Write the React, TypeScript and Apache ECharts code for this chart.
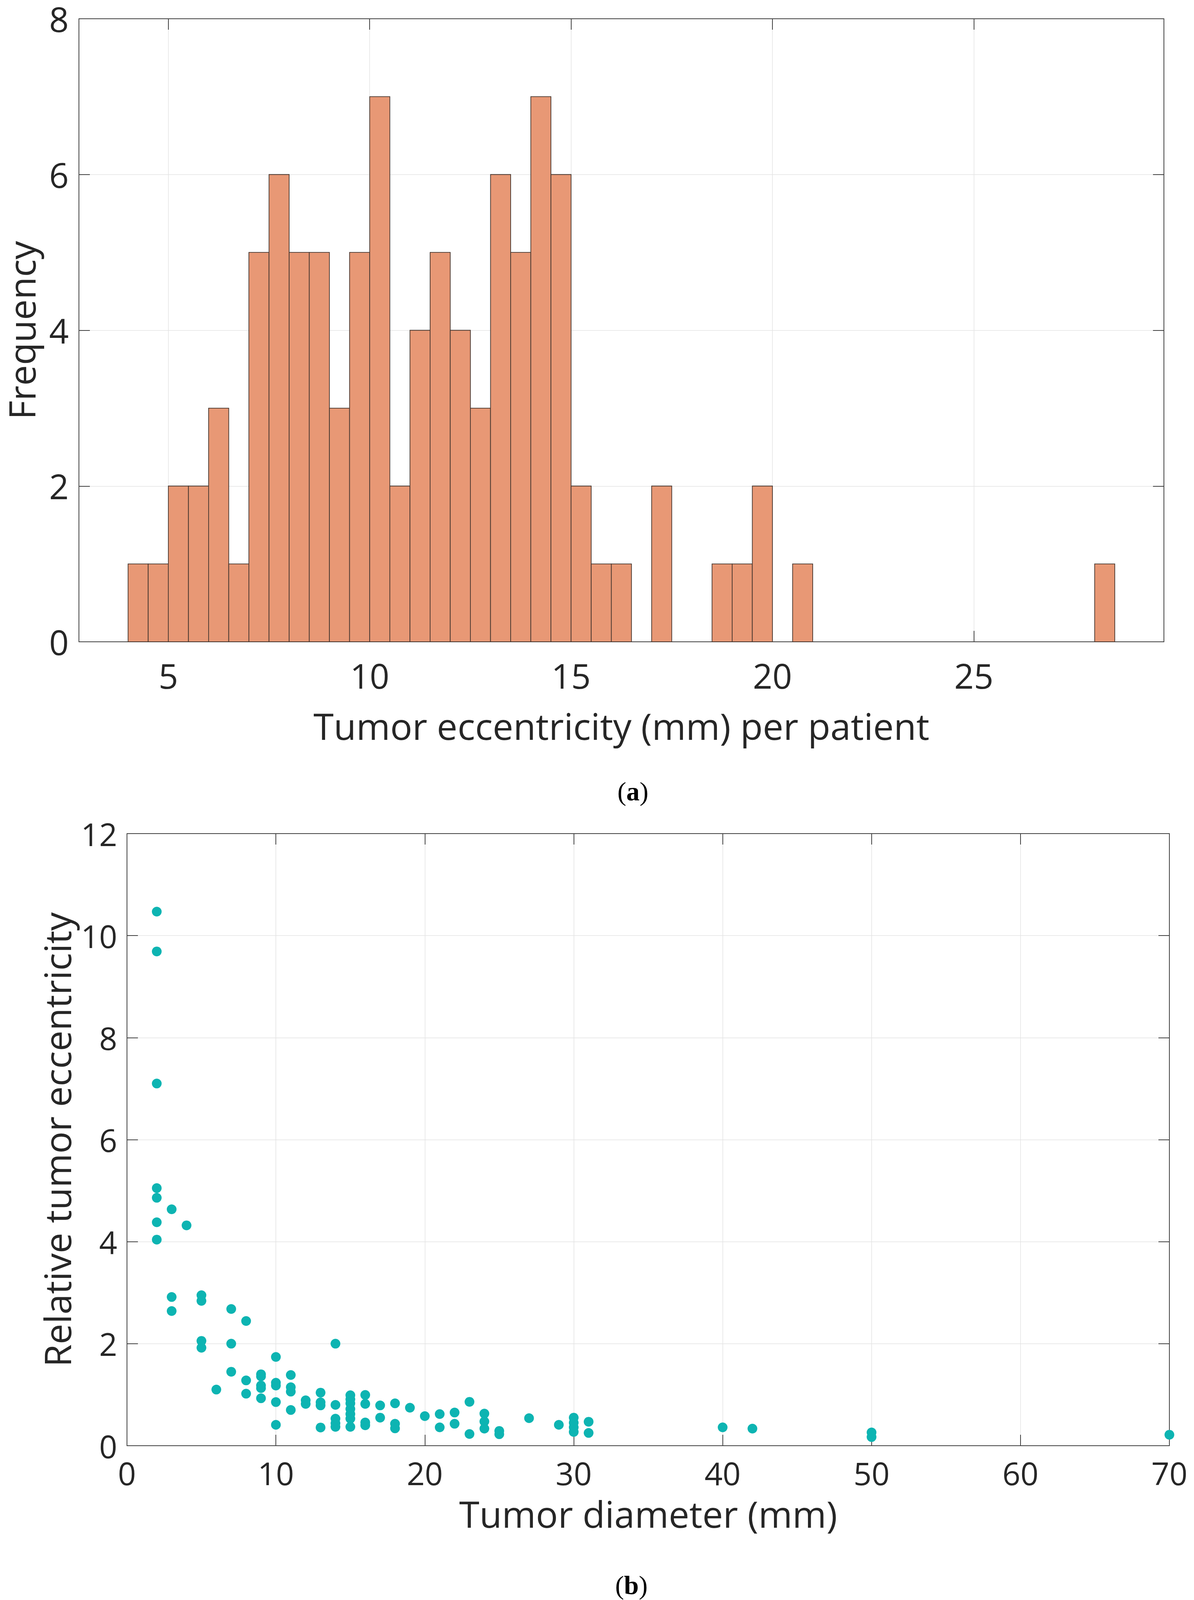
import React, { useEffect, useRef } from "react";
import * as echarts from "echarts";

// ---------- Data ----------
// (a) histogram of tumor eccentricity (mm), bins of 0.5 mm starting at 4 mm
const binStart = 4;
const binWidth = 0.5;
const binCounts = [
  1, 1, 2, 2, 3, 1, 5, 6, 5, 5, 3, 5, 7, 2, 4, 5, 4, 3, 6, 5, 7, 6, 2, 1, 1, 0,
  2, 0, 0, 1, 1, 2, 0, 1, 0, 0, 0, 0, 0, 0, 0, 0, 0, 0, 0, 0, 0, 0, 1,
];
const histXTicks = [5, 10, 15, 20, 25];
const histYTicks = [0, 2, 4, 6, 8];

// (b) relative tumor eccentricity vs tumor diameter
const diameters = [
  2, 2, 2, 2, 2, 2, 2,
  3, 3, 3,
  4,
  5, 5, 5, 5,
  6,
  7, 7, 7,
  8, 8, 8,
  9, 9, 9, 9, 9,
  10, 10, 10, 10, 10,
  11, 11, 11, 11,
  12, 12,
  13, 13, 13, 13,
  14, 14, 14, 14, 14,
  15, 15, 15, 15, 15, 15, 15,
  16, 16, 16, 16,
  17, 17,
  18, 18, 18,
  19,
  20,
  21, 21,
  22, 22,
  23, 23,
  24, 24, 24,
  25, 25,
  27,
  29,
  30, 30, 30, 30,
  31, 31,
  40,
  42,
  50, 50,
  70,
];
const relEccentricity = [
  10.47, 9.69, 7.1, 5.05, 4.86, 4.38, 4.04,
  4.635, 2.915, 2.64,
  4.32,
  2.95, 2.84, 2.055, 1.92,
  1.1,
  2.68, 2.0, 1.45,
  2.445, 1.28, 1.02,
  1.4, 1.36, 1.18, 1.13, 0.93,
  1.74, 1.235, 1.18, 0.855, 0.41,
  1.386, 1.146, 1.06, 0.7,
  0.89, 0.82,
  1.04, 0.85, 0.79, 0.357,
  2.0, 0.8, 0.53, 0.44, 0.37,
  0.99, 0.91, 0.83, 0.72, 0.62, 0.53, 0.37,
  0.995, 0.82, 0.455, 0.4,
  0.79, 0.55,
  0.83, 0.43, 0.34,
  0.745,
  0.58,
  0.62, 0.36,
  0.65, 0.43,
  0.86, 0.23,
  0.63, 0.475, 0.335,
  0.29, 0.225,
  0.54,
  0.41,
  0.55, 0.45, 0.36, 0.27,
  0.47, 0.25,
  0.36,
  0.335,
  0.26, 0.17,
  0.215,
];

// ---------- Styles ----------
const FONT = "'Open Sans', 'Noto Sans', sans-serif";
const TXT = "#262626";
const AXIS = "#404040";
const GRIDC = "#e3e3e3";
const BAR_FILL = "#E89875";
const BAR_EDGE = "#45362f";
const DOT = "#0DB4B2";

const W = 3056;
const H = 4115;

export default function App() {
  const ref = useRef<HTMLDivElement>(null);

  useEffect(() => {
    if (!ref.current) return;
    const chart = echarts.init(ref.current, undefined, { renderer: "svg" });

    const histData = binCounts
      .map((c, i) => [binStart + i * binWidth, binStart + (i + 1) * binWidth, c])
      .filter((d) => d[2] > 0);
    const scatterData = diameters.map((d, i) => [d, relEccentricity[i]]);

    const tickStyle = { show: true, inside: true, length: 28, lineStyle: { color: AXIS, width: 2 } };
    const lineStyle = { show: true, lineStyle: { color: AXIS, width: 2 } };

    const hMin = 2.78;
    const hMax = 29.72;

    const nameStyle = { fontSize: 94, lineHeight: 94, fontFamily: FONT, color: TXT };

    const option: any = {
      animation: false,
      backgroundColor: "#ffffff",
      grid: [
        { left: 194, top: 48, width: 2785, height: 1595, show: false },
        { left: 325, top: 2134, width: 2668, height: 1567, show: false },
      ],
      xAxis: [
        {
          gridIndex: 0,
          type: "value",
          position: "bottom",
          min: hMin,
          max: hMax,
          axisLine: { ...lineStyle, onZero: false },
          axisTick: { ...tickStyle, customValues: histXTicks },
          axisLabel: {
            customValues: histXTicks,
            margin: 42,
            fontSize: 88,
            lineHeight: 88,
            fontFamily: FONT,
            color: TXT,
          },
          splitLine: { show: true, lineStyle: { color: GRIDC, width: 1.5 } },
          name: "Tumor eccentricity (mm) per patient",
          nameLocation: "middle",
          nameGap: 168,
          nameTextStyle: nameStyle,
        },
        {
          gridIndex: 0,
          type: "value",
          position: "top",
          min: hMin,
          max: hMax,
          axisLine: { ...lineStyle, onZero: false },
          axisTick: { ...tickStyle, customValues: histXTicks },
          axisLabel: { show: false },
          splitLine: { show: false },
        },
        {
          gridIndex: 1,
          type: "value",
          position: "bottom",
          min: 0,
          max: 70,
          interval: 10,
          axisLine: { ...lineStyle, onZero: false },
          axisTick: tickStyle,
          axisLabel: { margin: 29, fontSize: 81, lineHeight: 81, fontFamily: FONT, color: TXT },
          splitLine: { show: true, lineStyle: { color: GRIDC, width: 1.5 } },
          name: "Tumor diameter (mm)",
          nameLocation: "middle",
          nameGap: 127,
          nameTextStyle: nameStyle,
        },
        {
          gridIndex: 1,
          type: "value",
          position: "top",
          min: 0,
          max: 70,
          interval: 10,
          axisLine: { ...lineStyle, onZero: false },
          axisTick: tickStyle,
          axisLabel: { show: false },
          splitLine: { show: false },
        },
      ],
      yAxis: [
        {
          gridIndex: 0,
          type: "value",
          position: "left",
          min: 0,
          max: 8,
          interval: 2,
          axisLine: { ...lineStyle, onZero: false },
          axisTick: tickStyle,
          axisLabel: {
            margin: 26,
            fontSize: 88,
            lineHeight: 88,
            fontFamily: FONT,
            color: TXT,
            customValues: histYTicks,
          },
          splitLine: { show: true, lineStyle: { color: GRIDC, width: 1.5 } },
          name: "Frequency",
          nameLocation: "middle",
          nameGap: 100,
          nameTextStyle: nameStyle,
        },
        {
          gridIndex: 0,
          type: "value",
          position: "right",
          min: 0,
          max: 8,
          interval: 2,
          axisLine: { ...lineStyle, onZero: false },
          axisTick: tickStyle,
          axisLabel: { show: false },
          splitLine: { show: false },
        },
        {
          gridIndex: 1,
          type: "value",
          position: "left",
          min: 0,
          max: 12,
          interval: 2,
          axisLine: { ...lineStyle, onZero: false },
          axisTick: tickStyle,
          axisLabel: { margin: 25, fontSize: 81, lineHeight: 81, fontFamily: FONT, color: TXT },
          splitLine: { show: true, lineStyle: { color: GRIDC, width: 1.5 } },
          name: "Relative tumor eccentricity",
          nameLocation: "middle",
          nameGap: 132,
          nameTextStyle: nameStyle,
        },
        {
          gridIndex: 1,
          type: "value",
          position: "right",
          min: 0,
          max: 12,
          interval: 2,
          axisLine: { ...lineStyle, onZero: false },
          axisTick: tickStyle,
          axisLabel: { show: false },
          splitLine: { show: false },
        },
      ],
      series: [
        {
          type: "custom",
          xAxisIndex: 0,
          yAxisIndex: 0,
          data: histData,
          encode: { x: [0, 1], y: 2 },
          renderItem: (params: any, api: any) => {
            const p0 = api.coord([api.value(0), api.value(2)]);
            const p1 = api.coord([api.value(1), 0]);
            return {
              type: "rect",
              shape: { x: p0[0], y: p0[1], width: p1[0] - p0[0], height: p1[1] - p0[1] },
              style: { fill: BAR_FILL, stroke: BAR_EDGE, lineWidth: 1.8 },
            };
          },
          z: 3,
        },
        {
          type: "scatter",
          xAxisIndex: 2,
          yAxisIndex: 2,
          data: scatterData,
          symbol: "circle",
          symbolSize: 25,
          itemStyle: { color: DOT, opacity: 1 },
          z: 3,
        },
      ],
      graphic: [
        {
          type: "text",
          x: 1620,
          y: 2026,
          style: {
            text: "{p|(}{b|a}{p|)}",
            align: "center",
            verticalAlign: "middle",
            rich: {
              p: { fontFamily: "'Liberation Serif', serif", fontSize: 68, fill: "#000" },
              b: { fontFamily: "'Liberation Serif', serif", fontSize: 68, fontWeight: "bold", fill: "#000" },
            },
          },
        },
        {
          type: "text",
          x: 1616,
          y: 4058,
          style: {
            text: "{p|(}{b|b}{p|)}",
            align: "center",
            verticalAlign: "middle",
            rich: {
              p: { fontFamily: "'Liberation Serif', serif", fontSize: 68, fill: "#000" },
              b: { fontFamily: "'Liberation Serif', serif", fontSize: 68, fontWeight: "bold", fill: "#000" },
            },
          },
        },
      ],
    };

    chart.setOption(option);
    return () => chart.dispose();
  }, []);

  return (
    <div
      ref={ref}
      style={{ position: "absolute", left: 0, top: 0, width: W, height: H, background: "#fff" }}
    />
  );
}
